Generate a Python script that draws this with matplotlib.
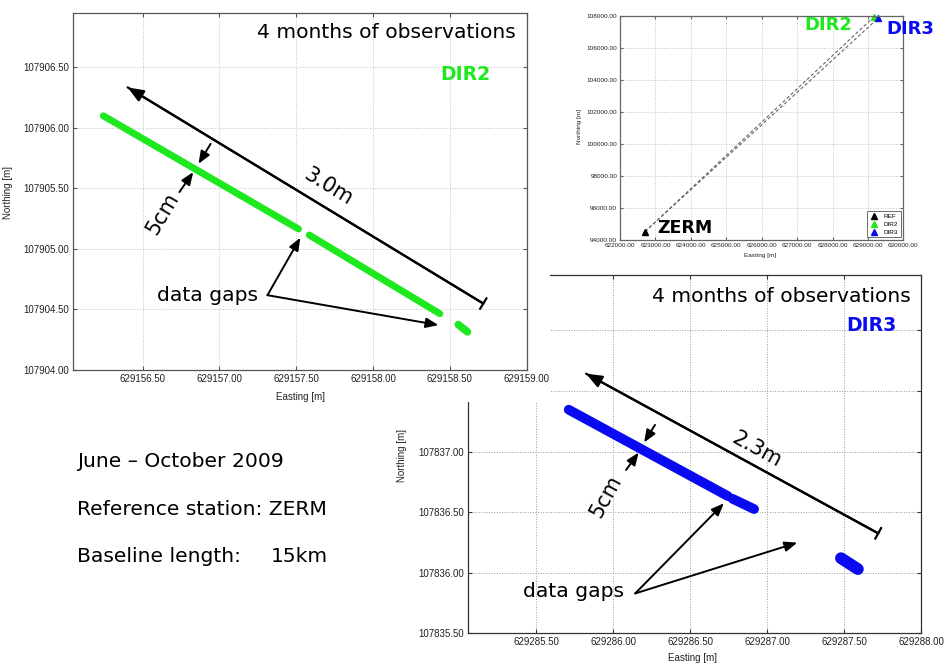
import numpy as np
import matplotlib
matplotlib.use("Agg")
import matplotlib.pyplot as plt
from matplotlib.patches import Rectangle
from matplotlib.ticker import FormatStrFormatter

plt.rcParams['font.family'] = 'Liberation Sans'

GREEN = '#1ee81e'
BLUE = '#0a0af0'
BIG = 'DejaVu Sans'

# DIR2 point cloud, drawn as track segments (east/north end points)
dir2_east = [[629156.245, 629157.515], [629157.585, 629158.435], [629158.555, 629158.615]]
dir2_north = [[107906.10, 107905.165], [107905.115, 107904.465], [107904.375, 107904.315]]
dir2_width = [5.0, 5.0, 5.5]
dir2_xticks = [629156.5, 629157.0, 629157.5, 629158.0, 629158.5, 629159.0]
dir2_yticks = [107904.0, 107904.5, 107905.0, 107905.5, 107906.0, 107906.5]

# DIR3 point cloud
dir3_east = [[629285.71, 629286.745], [629286.775, 629286.915], [629287.48, 629287.59]]
dir3_north = [[107837.345, 107836.632], [107836.61, 107836.525], [107836.12, 107836.03]]
dir3_width = [7.0, 7.0, 8.5]
dir3_xticks = [629285.5, 629286.0, 629286.5, 629287.0, 629287.5, 629288.0]
dir3_yticks = [107835.5, 107836.0, 107836.5, 107837.0, 107837.5, 107838.0]

# overview: reference station and the two rovers
stations = ['REF', 'DIR2', 'DIR3']
station_east = [622706, 629157.4, 629286.4]
station_north = [94518, 107905.2, 107836.8]
station_colors = ['black', GREEN, BLUE]
over_xticks = [622000, 623000, 624000, 625000, 626000, 627000, 628000, 629000, 630000]
over_yticks = [94000, 96000, 98000, 100000, 102000, 104000, 106000, 108000]

fig = plt.figure(figsize=(9.47, 6.64), dpi=100)
fig.patch.set_facecolor('white')


def style_axes(ax, xt, yt, lab_size, spine_col, grid_col, pad=3.5):
    ax.set_xticks(xt)
    ax.set_yticks(yt)
    ax.xaxis.set_major_formatter(FormatStrFormatter('%.2f'))
    ax.yaxis.set_major_formatter(FormatStrFormatter('%.2f'))
    ax.tick_params(direction='in', top=True, right=True, length=3, width=0.8,
                   color=spine_col, labelsize=lab_size, labelcolor='#222222', pad=pad)
    for s in ax.spines.values():
        s.set_color(spine_col)
        s.set_linewidth(0.9)
    ax.grid(True, linestyle=':', color=grid_col, linewidth=0.7)
    ax.set_axisbelow(True)


def screen_angle(ax, p0, p1):
    a = ax.transData.transform([p0, p1])
    return np.degrees(np.arctan2(a[1, 1] - a[0, 1], a[1, 0] - a[0, 0]))


def big_arrow(ax, head, tail):
    ax.annotate('', xy=head, xytext=tail,
                arrowprops=dict(arrowstyle='-|>,head_length=0.95,head_width=0.38',
                                color='black', lw=1.6, shrinkA=0, shrinkB=0))
    ax.annotate('', xy=head, xytext=tail,
                arrowprops=dict(arrowstyle='|-|,widthA=0.45,widthB=0.0',
                                color='black', lw=1.6, shrinkA=0, shrinkB=0))


def small_arrow(ax, head, tail):
    ax.annotate('', xy=head, xytext=tail,
                arrowprops=dict(arrowstyle='-|>,head_length=0.75,head_width=0.3',
                                color='black', lw=1.4, shrinkA=0, shrinkB=0))


def annotate_track(ax, arrow_head, arrow_tail, length_txt, length_pos,
                   cm_pos, cm_arrows, gaps_pos, gaps_targets, track):
    big_arrow(ax, arrow_head, arrow_tail)
    ang = screen_angle(ax, arrow_head, arrow_tail)
    ax.text(*length_pos, length_txt, family=BIG, fontsize=15, rotation=ang,
            rotation_mode='anchor', ha='center', va='center')
    tang = screen_angle(ax, track[0], track[1])
    ax.text(*cm_pos, '5cm', family=BIG, fontsize=15, rotation=tang + 90,
            rotation_mode='anchor', ha='center', va='center')
    for tail, head in cm_arrows:
        small_arrow(ax, head, tail)
    ax.text(gaps_pos[0], gaps_pos[1], 'data gaps', family=BIG, fontsize=14.6,
            ha='right', va='center')
    for head in gaps_targets:
        small_arrow(ax, head, (gaps_pos[0] + gaps_targets[0][2], gaps_pos[1]))


# DIR3 (bottom right) goes first, partly covered by the DIR2 panel
ax3 = fig.add_axes([0.4945, 0.0462, 0.4780, 0.5396])
ax3.set_zorder(0)
for e, n, w in zip(dir3_east, dir3_north, dir3_width):
    ax3.plot(e, n, color=BLUE, lw=w, solid_capstyle='round')
ax3.set_xlim(629285.057, 629288.0)
ax3.set_ylim(107835.5, 107838.456)
style_axes(ax3, dir3_xticks, dir3_yticks, 7, '#333333', '#9a9a9a', pad=3)
ax3.set_xlabel('Easting [m]', fontsize=7, color='#222222')
ax3.set_ylabel('Northing [m]', fontsize=7, color='#222222')
ax3.xaxis.set_label_coords(0.496, -0.056)
ax3.yaxis.set_label_coords(-0.135, 0.497)
ax3.text(0.977, 0.939, '4 months of observations', transform=ax3.transAxes,
         family=BIG, fontsize=14.6, ha='right', va='center')
ax3.text(0.8915, 0.860, 'DIR3', transform=ax3.transAxes, family=BIG,
         fontsize=13.5, fontweight='bold', color=BLUE, ha='center', va='center')

big_arrow(ax3, (629285.823, 107837.642), (629287.722, 107836.325))
a = screen_angle(ax3, (629285.823, 107837.642), (629287.722, 107836.325))
ax3.text(629286.932, 107837.014, '2.3m', family=BIG, fontsize=15, rotation=a,
         rotation_mode='anchor', ha='center', va='center')
t = screen_angle(ax3, (dir3_east[0][0], dir3_north[0][0]), (dir3_east[0][1], dir3_north[0][1]))
ax3.text(629285.953, 107836.628, '5cm', family=BIG, fontsize=15, rotation=t + 90,
         rotation_mode='anchor', ha='center', va='center')
small_arrow(ax3, (629286.200, 107837.074), (629286.271, 107837.220))
small_arrow(ax3, (629286.165, 107836.992), (629286.083, 107836.848))
ax3.text(629286.071, 107835.843, 'data gaps', family=BIG, fontsize=14.6,
         ha='right', va='center')
small_arrow(ax3, (629286.719, 107836.573), (629286.142, 107835.829))
small_arrow(ax3, (629287.196, 107836.248), (629286.142, 107835.829))

# white backing of the DIR2 panel
fig.add_artist(Rectangle((0, 1 - 402 / 664), 550 / 947, 402 / 664,
                         transform=fig.transFigure, facecolor='white',
                         edgecolor='none', zorder=1))

# DIR2 (top left)
ax2 = fig.add_axes([0.0775, 0.4428, 0.4786, 0.5377])
ax2.set_zorder(2)
for e, n, w in zip(dir2_east, dir2_north, dir2_width):
    ax2.plot(e, n, color=GREEN, lw=w, solid_capstyle='round')
ax2.set_xlim(629156.05, 629159.0)
ax2.set_ylim(107904.0, 107906.95)
style_axes(ax2, dir2_xticks, dir2_yticks, 7, '#555555', '#c4c4c4', pad=3)
ax2.set_xlabel('Easting [m]', fontsize=7, color='#222222')
ax2.set_ylabel('Northing [m]', fontsize=7, color='#222222')
ax2.xaxis.set_label_coords(0.5, -0.062)
ax2.yaxis.set_label_coords(-0.133, 0.496)
ax2.text(0.977, 0.944, '4 months of observations', transform=ax2.transAxes,
         family=BIG, fontsize=14.6, ha='right', va='center')
ax2.text(0.864, 0.829, 'DIR2', transform=ax2.transAxes, family=BIG,
         fontsize=13.5, fontweight='bold', color=GREEN, ha='center', va='center')

big_arrow(ax2, (629156.403, 107906.335), (629158.718, 107904.549))
a = screen_angle(ax2, (629156.403, 107906.335), (629158.718, 107904.549))
ax2.text(629157.707, 107905.511, '3.0m', family=BIG, fontsize=15, rotation=a,
         rotation_mode='anchor', ha='center', va='center')
t = screen_angle(ax2, (dir2_east[0][0], dir2_north[0][0]), (dir2_east[1][1], dir2_north[1][1]))
ax2.text(629156.628, 107905.291, '5cm', family=BIG, fontsize=15, rotation=t + 90,
         rotation_mode='anchor', ha='center', va='center')
small_arrow(ax2, (629156.864, 107905.703), (629156.943, 107905.868))
small_arrow(ax2, (629156.830, 107905.635), (629156.740, 107905.470))
ax2.text(629157.253, 107904.618, 'data gaps', family=BIG, fontsize=14.6,
         ha='right', va='center')
small_arrow(ax2, (629157.527, 107905.093), (629157.313, 107904.618))
small_arrow(ax2, (629158.426, 107904.371), (629157.313, 107904.618))

# overview of the baselines (top right)
ax1 = fig.add_axes([0.6547, 0.6386, 0.2992, 0.3378])
ax1.set_zorder(3)
for k in (1, 2):
    ax1.plot([station_east[0], station_east[k]], [station_north[0], station_north[k]],
             color='#666666', lw=0.8, dashes=(3, 2))
for name, e, n, c in zip(stations, station_east, station_north, station_colors):
    ax1.plot(e, n, '^', color=c, ms=5, label=name, clip_on=False)
ax1.set_xlim(622000, 630000)
ax1.set_ylim(94000, 108000)
style_axes(ax1, over_xticks, over_yticks, 4.6, '#666666', '#c4c4c4', pad=2)
ax1.tick_params(length=2)
ax1.set_xlabel('Easting [m]', fontsize=4.6, color='#222222')
ax1.set_ylabel('Northing [m]', fontsize=4.6, color='#222222')
ax1.xaxis.set_label_coords(0.494, -0.059)
ax1.yaxis.set_label_coords(-0.135, 0.505)
ax1.text(623835, 94730, 'ZERM', family=BIG, fontsize=12.5, fontweight='bold',
         color='black', ha='center', va='center')
ax1.text(627882, 107420, 'DIR2', family=BIG, fontsize=13, fontweight='bold',
         color=GREEN, ha='center', va='center', clip_on=False)
ax1.text(630209, 107151, 'DIR3', family=BIG, fontsize=13, fontweight='bold',
         color=BLUE, ha='center', va='center', clip_on=False)
leg = ax1.legend(loc='lower right', fontsize=4.6, frameon=True, fancybox=False,
                 edgecolor='#555555', framealpha=1, borderaxespad=0.4,
                 handlelength=1.5, labelspacing=0.35, borderpad=0.4, markerscale=0.9)
leg.get_frame().set_linewidth(0.6)

# session summary
fig.text(77 / 947, 1 - 461.7 / 664, 'June – October 2009', family=BIG, fontsize=14.6, va='center')
fig.text(77 / 947, 1 - 509.3 / 664, 'Reference station: ZERM', family=BIG, fontsize=14.6, va='center')
fig.text(77 / 947, 1 - 556.7 / 664, 'Baseline length:', family=BIG, fontsize=14.6, va='center')
fig.text(270.7 / 947, 1 - 556.7 / 664, '15km', family=BIG, fontsize=14.6, va='center')

fig.savefig('out.png', dpi=100)
